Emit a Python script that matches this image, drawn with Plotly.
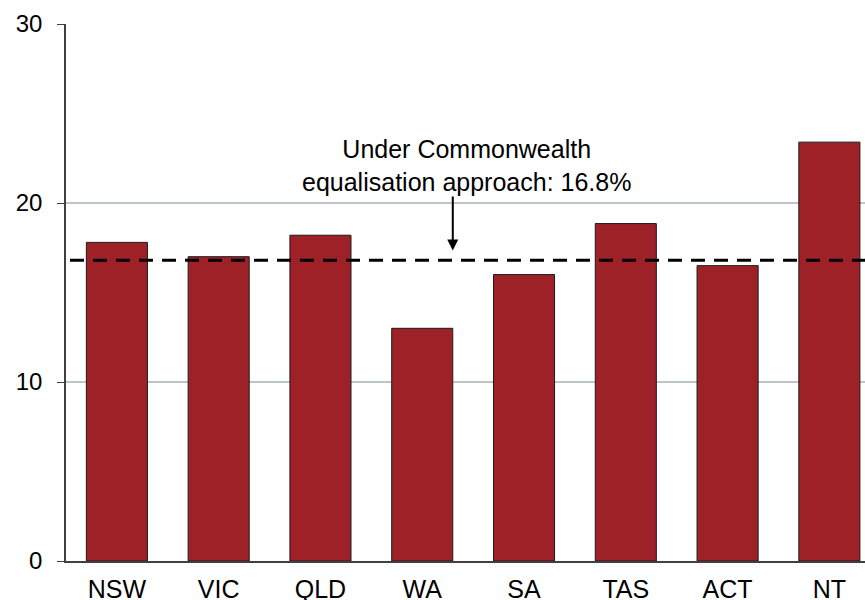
import plotly.graph_objects as go

states = ["NSW", "VIC", "QLD", "WA", "SA", "TAS", "ACT", "NT"]
values = [17.8, 17.0, 18.2, 13.0, 16.0, 18.85, 16.5, 23.4]
benchmark = 16.8
y_ticks = [0, 10, 20, 30]
note_text = "Under Commonwealth<br>equalisation approach: 16.8%"

fig = go.Figure()
fig.add_trace(go.Bar(
    x=list(range(len(states))), y=values,
    marker=dict(color="#9e2128", line=dict(color="#1a1a1a", width=1)),
    width=0.6,
))

fig.add_shape(type="line", xref="paper", yref="y", x0=0.005, x1=1, y0=benchmark, y1=benchmark,
              line=dict(color="black", width=3, dash="14px,9px"))

# label text
fig.add_annotation(
    x=3.43, y=22.12, xref="x", yref="y", text=note_text, showarrow=False,
    xanchor="center", yanchor="middle",
    font=dict(size=25, color="black", family="Liberation Sans, Arial, sans-serif"),
)
# arrow
fig.add_annotation(
    x=3.3, y=17.35, ax=3.3, ay=20.45, xref="x", yref="y", axref="x", ayref="y",
    text="", showarrow=True, arrowhead=2, arrowsize=1.1, arrowwidth=2, arrowcolor="black",
)

fig.update_layout(
    width=865, height=600,
    margin=dict(l=66, r=0, t=24, b=39),
    plot_bgcolor="white", paper_bgcolor="white",
    showlegend=False,
    font=dict(family="Liberation Sans, Arial, sans-serif", size=24, color="black"),
)
fig.update_xaxes(
    tickmode="array", tickvals=list(range(len(states))), ticktext=states,
    range=[-0.5, 7.35], showgrid=False, showline=True, linecolor="#404040", linewidth=1.5,
    ticks="", tickfont=dict(size=25), ticklabelstandoff=5, automargin=False,
)
fig.update_yaxes(
    range=[0, 30], tickvals=y_ticks, showgrid=True, gridcolor="#bcc4cc", gridwidth=1.5,
    showline=True, linecolor="#404040", linewidth=1.5, ticks="outside", ticklen=7,
    tickcolor="#404040", tickfont=dict(size=24), zeroline=False, ticklabelstandoff=10,
    automargin=False,
)

fig.write_html("out.html", config={"displayModeBar": False},
               post_script="document.body.style.margin='0';document.body.style.overflow='hidden';")
